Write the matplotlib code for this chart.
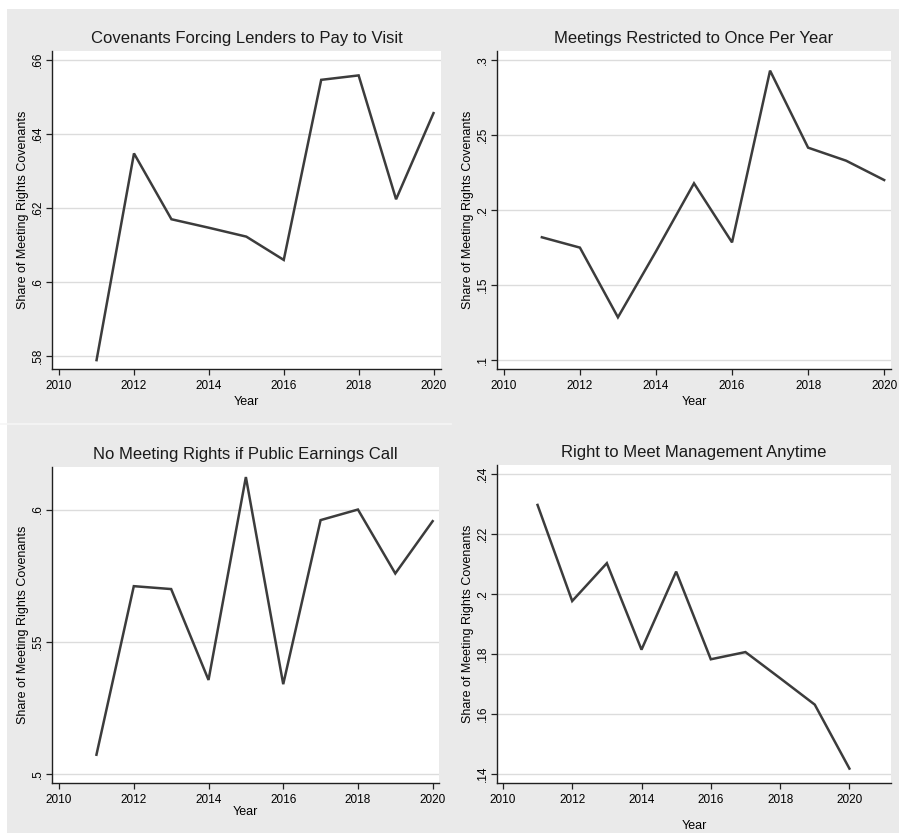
import matplotlib
matplotlib.use("Agg")
import matplotlib.pyplot as plt
from matplotlib.lines import Line2D
from matplotlib.patches import Rectangle

years = [2011, 2012, 2013, 2014, 2015, 2016, 2017, 2018, 2019, 2020]

# share of meeting rights covenants
pay_to_visit = [0.5789, 0.6348, 0.6170, 0.6147, 0.6123, 0.6060, 0.6547, 0.6559, 0.6224, 0.6457]
once_per_year = [0.1819, 0.1750, 0.1285, 0.1725, 0.2179, 0.1785, 0.2931, 0.2417, 0.2330, 0.2201]
earnings_call = [0.5072, 0.5710, 0.5699, 0.5355, 0.6123, 0.5339, 0.5960, 0.6000, 0.5758, 0.5956]
meet_anytime = [0.2296, 0.1976, 0.2102, 0.1814, 0.2074, 0.1782, 0.1806, 0.1719, 0.1631, 0.1418]

titles = ["Covenants Forcing Lenders to Pay to Visit",
          "Meetings Restricted to Once Per Year",
          "No Meeting Rights if Public Earnings Call",
          "Right to Meet Management Anytime"]

y_ticks = [[0.58, 0.60, 0.62, 0.64, 0.66],
           [0.10, 0.15, 0.20, 0.25, 0.30],
           [0.50, 0.55, 0.60],
           [0.14, 0.16, 0.18, 0.20, 0.22, 0.24]]
y_tick_labels = [[".58", ".6", ".62", ".64", ".66"],
                 [".1", ".15", ".2", ".25", ".3"],
                 [".5", ".55", ".6"],
                 [".14", ".16", ".18", ".2", ".22", ".24"]]
x_ticks = [2010, 2012, 2014, 2016, 2018, 2020]

BG = "#eaeaea"
LINE = "#3c3c3c"
GRID = "#dcdcdc"

W, H = 899, 833
fig = plt.figure(figsize=(W / 100, H / 100), dpi=100)
fig.patch.set_facecolor("white")
# gray graph region (small white margin top/left like the original)
fig.add_artist(Rectangle((7 / W, 0), 1, 1 - 9 / H, transform=fig.transFigure,
                         facecolor=BG, edgecolor="none", zorder=-10))
fig.add_artist(Line2D([0, 451 / W], [1 - 424 / H, 1 - 424 / H], transform=fig.transFigure,
                      color="#f6f6f6", lw=1.2, zorder=-5))

def px_box(x0, y0, x1, y1):
    return [x0 / W, 1 - y1 / H, (x1 - x0) / W, (y1 - y0) / H]

boxes = [px_box(52, 51, 441, 369), px_box(497, 51, 891, 369),
         px_box(52, 467, 439, 783), px_box(497, 465, 891, 783)]
ylims = [(0.5765, 0.6625), (0.094, 0.3062), (0.4965, 0.6161), (0.137, 0.2429)]
xlims = [(2009.81, 2020.2), (2009.82, 2020.18), (2009.81, 2020.17), (2009.83, 2021.2)]
xlabel_pad = [3, 3, 0, 10]

series = [pay_to_visit, once_per_year, earnings_call, meet_anytime]
body_font = ["Liberation Sans", "DejaVu Sans"]

for i in range(4):
    ax = fig.add_axes(boxes[i])
    ax.set_facecolor("white")
    ax.plot(years, series[i], color=LINE, lw=1.8, solid_joinstyle="miter")
    ax.set_xlim(*xlims[i])
    ax.set_ylim(*ylims[i])
    ax.set_yticks(y_ticks[i])
    ax.set_yticklabels(y_tick_labels[i], rotation=90, va="center", family=body_font, fontsize=8.5)
    ax.set_xticks(x_ticks)
    ax.set_xticklabels([str(x) for x in x_ticks], family=body_font, fontsize=8.5)
    ax.grid(axis="y", color=GRID, lw=1.0)
    ax.set_axisbelow(True)
    for s in ["top", "right"]:
        ax.spines[s].set_visible(False)
    for s in ["left", "bottom"]:
        ax.spines[s].set_color("#202020")
        ax.spines[s].set_linewidth(1.0)
    ax.tick_params(direction="out", length=4, width=0.9, color="#202020", pad=4)
    ax.tick_params(axis="y", pad=2)
    ax.set_title(titles[i], family=body_font, fontsize=12, pad=6, color="#1a1a1a")
    ax.set_ylabel("Share of Meeting Rights Covenants", family=body_font, fontsize=9, labelpad=2)
    ax.set_xlabel("Year", family=body_font, fontsize=9, labelpad=xlabel_pad[i])

fig.savefig("out.png", dpi=100, facecolor=fig.get_facecolor())
